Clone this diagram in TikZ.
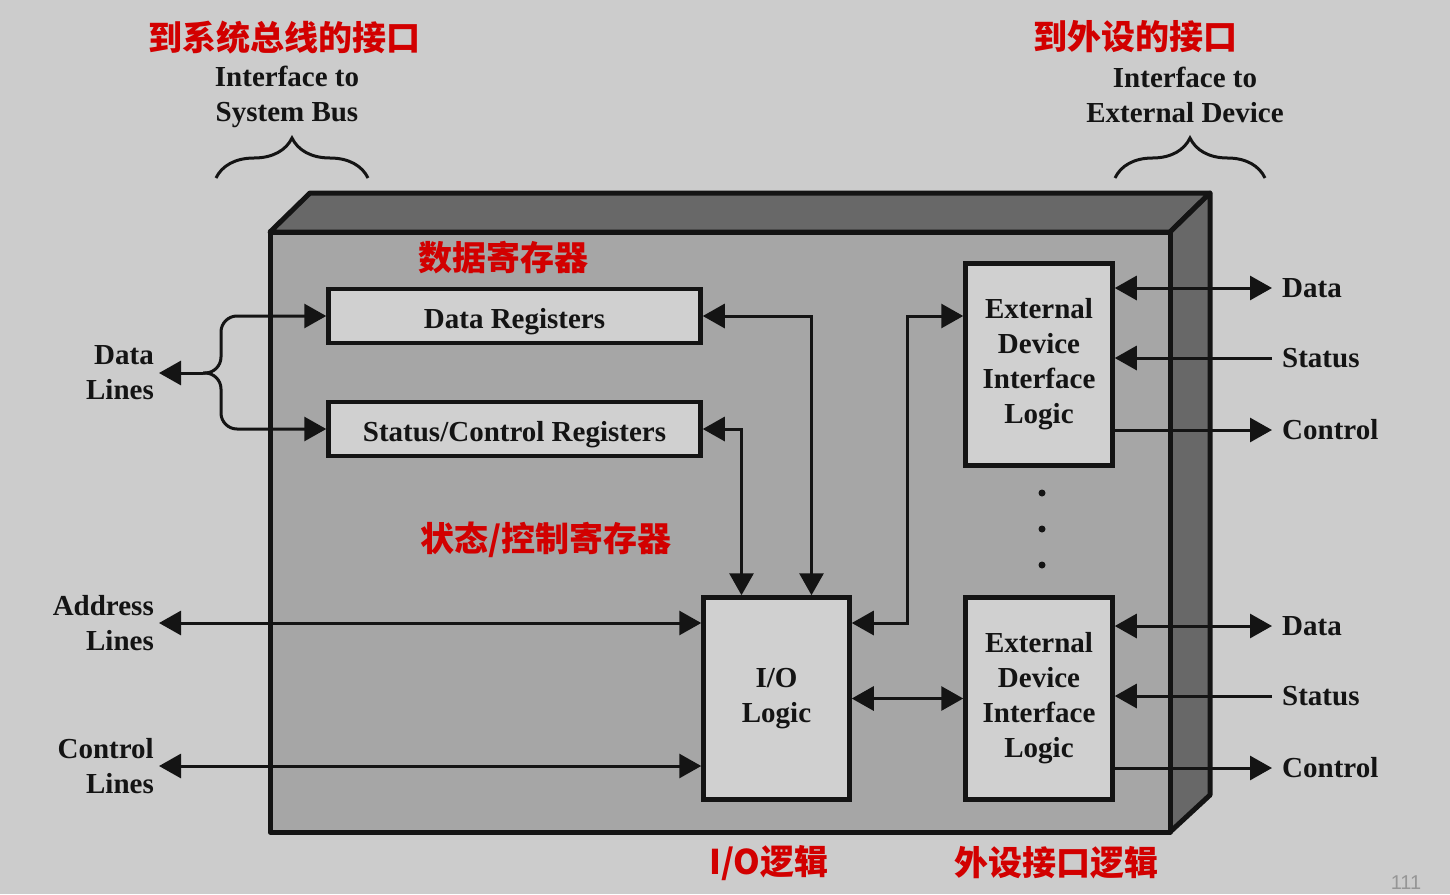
\documentclass[tikz,border=0pt]{standalone}
\usepackage{fontspec}
\setmainfont{Liberation Serif}
\newfontfamily\cjk{Noto Sans CJK SC}
\newfontfamily\pgnum{Liberation Sans}
\usetikzlibrary{arrows.meta,decorations.pathreplacing,calc}
\definecolor{bg}{RGB}{204,204,204}
\definecolor{face}{RGB}{166,166,166}
\definecolor{bevel}{RGB}{104,104,104}
\definecolor{boxfill}{RGB}{208,208,208}
\definecolor{cnred}{RGB}{210,0,0}
\definecolor{ink}{RGB}{20,20,20}
\definecolor{pggray}{RGB}{150,150,150}
\begin{document}
\begin{tikzpicture}[x=1pt,y=-1pt,
  >={Triangle[length=22pt,width=24pt]},
  en/.style={font=\fontsize{29}{35}\selectfont\bfseries, text=ink},
  cn/.style={font=\cjk\bfseries\fontsize{34}{40}\selectfont, text=cnred},
  blk/.style={draw=ink, line width=4.5pt, fill=boxfill, align=center, en},
  conn/.style={draw=ink, line width=3pt},
  ar/.style={conn,->},
  bar/.style={conn,<->},
  ll/.style={en, anchor=east, align=right, inner xsep=5pt, inner ysep=0pt},
  rl/.style={en, anchor=west, inner xsep=10pt, inner ysep=0pt},
  brc/.style={draw=ink, line width=3pt, decorate, decoration={brace, amplitude=40pt}},
  shell/.style={draw=ink, line width=5pt, line join=round}]
\useasboundingbox (0,0) rectangle (1450,894);
\fill[bg] (0,0) rectangle (1450,894);

% main enclosure
\filldraw[shell, fill=bevel] (270,232) -- (310,193) -- (1210,193) -- (1170,232) -- cycle;
\filldraw[shell, fill=bevel] (1170,232) -- (1210,193) -- (1210,795) -- (1170,832) -- cycle;
\filldraw[shell, fill=face] (270,232) rectangle (1170,832);

% headings
\node[cn] (c1) at (284,38) {到系统总线的接口};
\node[cn] (c2) at (1135,37) {到外设的接口};
\node[cn] (c3) at (503,258) {数据寄存器};
\node[cn] (c4) at (546,540) {状态/控制寄存器};
\node[cn] (c5) at (769,863) {I/O逻辑};
\node[cn] (c6) at (1056,863) {外设接口逻辑};

\node[en, align=center] (ib) at (287,97) {Interface to\\System Bus};
\node[en, align=center] (ie) at (1185,95) {Interface to\\External Device};
\draw[brc] (216,178) -- (368,178);
\draw[brc] (1115,178) -- (1265,178);

% blocks
\node[blk, minimum width=372pt, minimum height=54pt, text height=24pt, text depth=0pt] (dr) at (514.5,316) {Data Registers};
\node[blk, minimum width=372pt, minimum height=54pt, text height=24pt, text depth=0pt] (sr) at (514.5,429) {Status/Control Registers};
\node[blk, minimum width=146pt, minimum height=202pt] (io) at (776.5,698.5) {I/O\\Logic};
\node[blk, minimum width=147pt, minimum height=202pt] (e1) at (1039,364.5) {External\\Device\\Interface\\Logic};
\node[blk, minimum width=147pt, minimum height=202pt] (e2) at (1039,698.5) {External\\Device\\Interface\\Logic};

% dots
\fill[ink] (1042,493) circle (3.5pt);
\fill[ink] (1042,529) circle (3.5pt);
\fill[ink] (1042,565) circle (3.5pt);

% left labels
\node[ll] (dl) at (159,373) {Data\\Lines};
\node[ll] (al) at (159,623) {Address\\Lines};
\node[ll] (cl) at (159,766) {Control\\Lines};

% data lines branch
\coordinate (br) at (203,373);
\coordinate (bx) at (221,373);
\draw[ar] (br) -- (dl.east);
\draw[ar, rounded corners=16pt] (br) -- (bx) -- (bx |- dr.west) -- (dr.west);
\draw[ar, rounded corners=16pt] (br) -- (bx) -- (bx |- sr.west) -- (sr.west);

\draw[bar] (al.east) -- (io.west |- al.east);
\draw[bar] (cl.east) -- (io.west |- cl.east);
\draw[bar] (dr.east) -| ([xshift=35pt]io.north);
\draw[bar] (sr.east) -| ([xshift=-35pt]io.north);
\coordinate (mx) at ($(io.east)!0.5!(e2.west)$);
\draw[bar] (io.east |- al.east) -| (mx |- dr.east) -- (e1.west |- dr.east);
\draw[bar] (io.east) -- (e2.west);

% right labels
\node[rl] (d1) at (1272,288) {Data};
\node[rl] (s1) at (1272,358) {Status};
\node[rl] (k1) at (1272,430) {Control};
\node[rl] (d2) at (1272,626) {Data};
\node[rl] (s2) at (1272,696) {Status};
\node[rl] (k2) at (1272,768) {Control};

\draw[bar] (e1.east |- d1.west) -- (d1.west);
\draw[ar] (s1.west) -- (e1.east |- s1.west);
\draw[ar] (e1.east |- k1.west) -- (k1.west);
\draw[bar] (e2.east |- d2.west) -- (d2.west);
\draw[ar] (s2.west) -- (e2.east |- s2.west);
\draw[ar] (e2.east |- k2.west) -- (k2.west);

\node[font=\pgnum\fontsize{20}{20}\selectfont, text=pggray] (pg) at (1406,883) {111};
\end{tikzpicture}
\end{document}
